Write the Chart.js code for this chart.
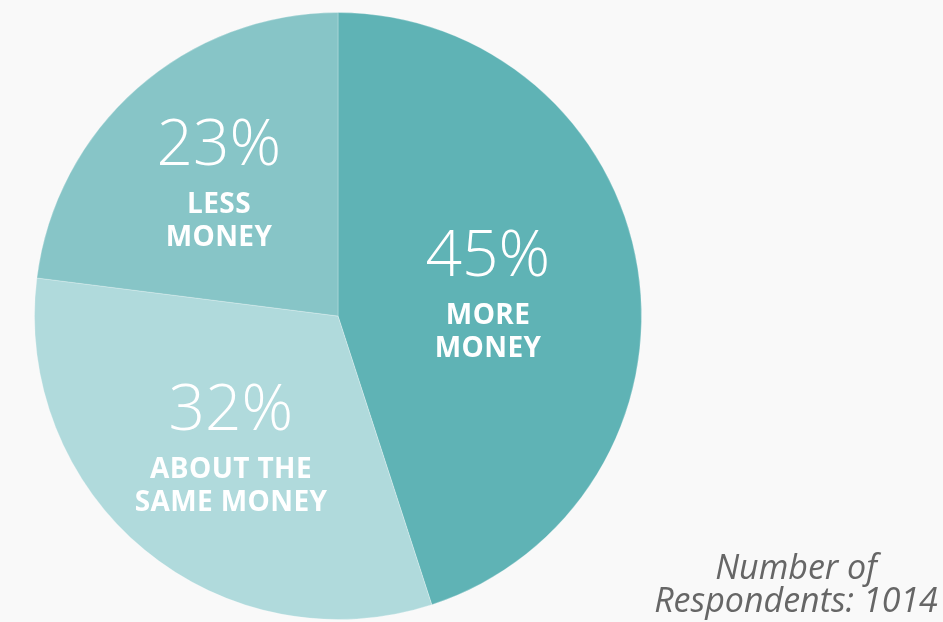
<!DOCTYPE html>
<html>
<head>
<meta charset="utf-8">
<script src="https://cdn.jsdelivr.net/npm/chart.js"></script>
<style>
  html, body { margin: 0; padding: 0; background: #f9f9f9; }
  #wrap { position: relative; width: 943px; height: 622px; }
  #note {
    position: absolute; left: 636px; top: 550px; width: 320px;
    text-align: center; font: italic 34px "Open Sans", sans-serif;
    line-height: 33px; color: #666666;
  }
</style>
</head>
<body>
<div id="wrap">
  <canvas id="pie" width="943" height="622"></canvas>
  <div id="note">Number of<br>Respondents: 1014</div>
</div>
<script>
// Answer shares, clockwise from 12 o'clock
const answers = ['MORE MONEY', 'ABOUT THE SAME MONEY', 'LESS MONEY'];
const shares = [45, 32, 23];
const labelLines = [['MORE', 'MONEY'], ['ABOUT THE', 'SAME MONEY'], ['LESS', 'MONEY']];
const sliceColors = ['#5fb3b5', '#b0dadc', '#87c5c7'];

// Draws "NN%" plus the caption inside each slice
const sliceLabels = {
  id: 'sliceLabels',
  afterDatasetsDraw(chart, args, opts) {
    const ctx = chart.ctx;
    const meta = chart.getDatasetMeta(0);
    meta.data.forEach((arc, i) => {
      const p = arc.getProps(['x', 'y', 'startAngle', 'endAngle', 'outerRadius']);
      const mid = (p.startAngle + p.endAngle) / 2;
      const r = p.outerRadius * opts.radial[i];
      const cx = p.x + Math.cos(mid) * r;
      const cy = p.y + Math.sin(mid) * r;
      ctx.save();
      ctx.fillStyle = '#ffffff';
      ctx.textAlign = 'center';
      ctx.textBaseline = 'alphabetic';
      ctx.font = '300 64px "Open Sans", sans-serif';
      ctx.fillText(shares[i] + '%', cx, cy - 16);
      ctx.font = 'bold 28px "Open Sans", sans-serif';
      ctx.letterSpacing = '0.4px';
      labelLines[i].forEach((t, k) => {
        ctx.fillText(t, cx + 0.2, cy + 32 + k * 33);
      });
      ctx.restore();
    });
  }
};

new Chart(document.getElementById('pie'), {
  type: 'pie',
  data: {
    labels: answers,
    datasets: [{
      data: shares,
      backgroundColor: sliceColors,
      borderColor: 'rgba(255,255,255,0.25)',
      borderWidth: 1
    }]
  },
  options: {
    responsive: false,
    animation: false,
    layout: { padding: { left: 34, right: 301, top: 12, bottom: 2 } },
    plugins: {
      legend: { display: false },
      tooltip: { enabled: false },
      sliceLabels: { radial: [0.5, 0.554, 0.594] }
    }
  },
  plugins: [sliceLabels]
});
</script>
</body>
</html>
